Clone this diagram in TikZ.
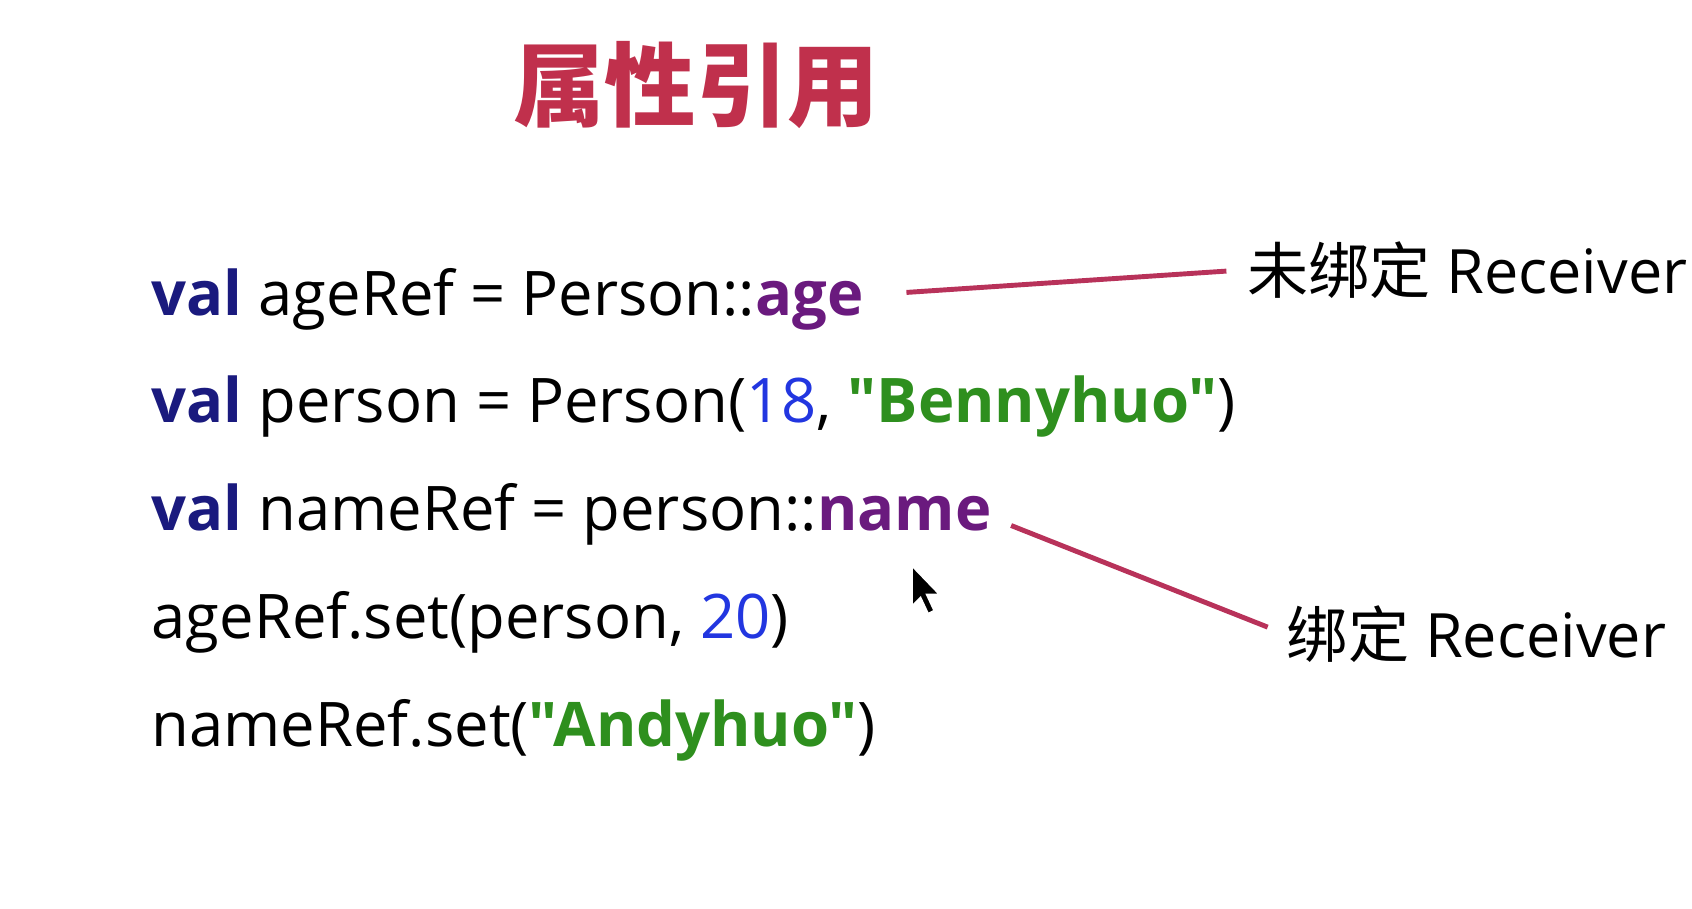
\documentclass[tikz,border=0pt]{standalone}
\usepackage{fontspec}
\setmainfont{Open Sans}[Ligatures=TeXOff]
\newfontfamily\cjk{Noto Sans CJK SC}
\usetikzlibrary{positioning}
\definecolor{titlered}{HTML}{C0304C}
\definecolor{kwblue}{HTML}{1A1A7E}
\definecolor{proppurple}{HTML}{6A1A7E}
\definecolor{numblue}{HTML}{2236E0}
\definecolor{strgreen}{HTML}{2E8F1E}
\definecolor{linered}{HTML}{B8325A}

\newcommand{\kw}[1]{{\color{kwblue}\bfseries #1}}
\newcommand{\prop}[1]{{\color{proppurple}\bfseries #1}}
\newcommand{\num}[1]{{\color{numblue}#1}}
\newcommand{\str}[1]{{\color{strgreen}\bfseries "#1"}}

\begin{document}
\begin{tikzpicture}[x=1.0791cm, y=1.0791cm,
    codeline/.style={anchor=base west, inner sep=0, font=\fontsize{17.5pt}{21pt}\selectfont},
    label/.style={anchor=west, inner sep=0, font=\fontsize{17.4pt}{21pt}\selectfont},
    pointer/.style={draw=linered, line width=1.4pt, shorten >=0.2cm}
  ]
     \useasboundingbox (0,0) rectangle (15.68,-8.415);
     \path (6.45,-0.79) node [font=\cjk\bfseries\fontsize{26pt}{30pt}\selectfont, text=titlered] (title) {属性引用}
           (1.40,-2.92) node [codeline] (line1) {\kw{val} ageRef = Person::\prop{age}}
           (1.40,-3.92) node [codeline] (line2) {\kw{val} person = Person(\num{18}, \str{Bennyhuo})}
           (1.40,-4.92) node [codeline] (line3) {\kw{val} nameRef = person::\prop{name}}
           (1.40,-5.92) node [codeline] (line4) {ageRef.set(person, \num{20})}
           (1.40,-6.92) node [codeline] (line5) {nameRef.set(\str{Andyhuo})}
           (11.55,-2.50) node [label] (unbound) {{\cjk 未绑定} Receiver}
           (11.92,-5.88) node [label] (bound) {{\cjk 绑定} Receiver}
     ;
     \coordinate (agetail) at (8.40,-2.71);
     \coordinate (nametail) at (9.37,-4.87);
     \draw [pointer] (agetail) -- (unbound.west);
     \draw [pointer] (nametail) -- (bound.west);
     % mouse cursor
     \filldraw [fill=black, draw=white, line width=0.6pt]
           (8.45,-5.24) -- (8.45,-5.62) -- (8.53,-5.54) -- (8.60,-5.69) -- (8.66,-5.66) -- (8.59,-5.51) -- (8.71,-5.51) -- cycle;
  \end{tikzpicture}
\end{document}
